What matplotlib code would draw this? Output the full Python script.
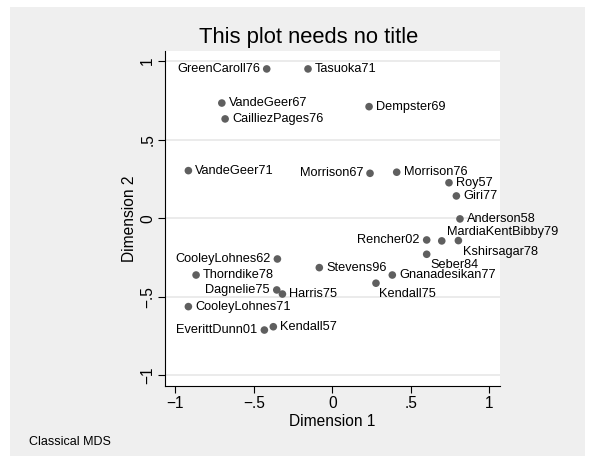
import matplotlib
matplotlib.use("Agg")
import matplotlib.pyplot as plt
from matplotlib.patches import Rectangle

plt.rcParams['font.family'] = ['Liberation Sans', 'DejaVu Sans']

names = ["GreenCaroll76", "Tasuoka71", "VandeGeer67", "CailliezPages76", "Dempster69",
         "VandeGeer71", "Morrison67", "Morrison76", "Roy57", "Giri77", "Anderson58",
         "Rencher02", "MardiaKentBibby79", "Kshirsagar78", "Seber84", "CooleyLohnes62",
         "Stevens96", "Gnanadesikan77", "Kendall75", "Thorndike78", "Dagnelie75",
         "Harris75", "CooleyLohnes71", "Kendall57", "EverittDunn01"]
dim1 = [-0.418, -0.155, -0.704, -0.683, 0.234,
        -0.917, 0.240, 0.410, 0.743, 0.790, 0.813,
        0.601, 0.697, 0.803, 0.601, -0.350,
        -0.083, 0.382, 0.278, -0.868, -0.354,
        -0.318, -0.917, -0.376, -0.433]
dim2 = [0.950, 0.950, 0.733, 0.632, 0.710,
        0.303, 0.286, 0.293, 0.226, 0.142, -0.004,
        -0.138, -0.144, -0.142, -0.229, -0.259,
        -0.314, -0.361, -0.413, -0.361, -0.456,
        -0.482, -0.562, -0.690, -0.711]
# marker label clock positions
label_pos = [9, 3, 3, 3, 3,
             3, 9, 3, 3, 3, 3,
             9, 2, 4, 5, 9,
             3, 3, 5, 3, 9,
             3, 3, 3, 9]
ticks = [-1, -0.5, 0, 0.5, 1]
tick_labels = ["\u22121", "\u2212.5", "0", ".5", "1"]

W, H = 595, 463
fig = plt.figure(figsize=(W / 100, H / 100), dpi=100, facecolor="white")
bg = Rectangle((10 / W, 7 / H), 575 / W, 449 / H, transform=fig.transFigure,
               facecolor="#efefef", edgecolor="none", zorder=-10)
fig.patches.append(bg)

ax = fig.add_axes([165 / W, 1 - 386 / H, 335 / W, 335 / H])
ax.set_zorder(1)
ax.set_facecolor("white")
ax.set_xlim(-1.066, 1.068)
ax.set_ylim(-1.067, 1.064)

for t in ticks:
    ax.axhline(t, color="#e6e6e6", lw=1.1, zorder=1)

ax.scatter(dim1, dim2, s=30, color="#5f5f5f", edgecolors="none", zorder=3)

offsets = {3: (5.0, 0, "left"), 9: (-5.0, 0, "right"), 2: (3.6, 6.5, "left"),
           4: (3.2, -7.9, "left"), 5: (2.4, -7.9, "left")}
for n, x, y, p in zip(names, dim1, dim2, label_pos):
    dx, dy, ha = offsets[p]
    ax.annotate(n, (x, y), xytext=(dx, dy), textcoords="offset points",
                ha=ha, va="center", fontsize=9.2, color="black", zorder=4)

ax.set_xticks(ticks)
ax.set_xticklabels(tick_labels)
ax.set_yticks(ticks)
ax.set_yticklabels(tick_labels, rotation=90, va="center")
ax.tick_params(axis="both", direction="out", length=5, width=0.8, color="black",
               labelsize=11.2, pad=2)
for s in ["top", "right"]:
    ax.spines[s].set_visible(False)
for s in ["left", "bottom"]:
    ax.spines[s].set_linewidth(0.8)
    ax.spines[s].set_color("black")

ax.set_xlabel("Dimension 1", fontsize=11.2, labelpad=2)
ax.set_ylabel("Dimension 2", fontsize=11.2, labelpad=2)

fig.text(309 / W, 1 - 43 / H, "This plot needs no title", ha="center", va="baseline",
         fontsize=15.8)
fig.text(29 / W, 1 - 442 / H, "Classical MDS", ha="left", va="center", fontsize=9)

fig.savefig("out.png", dpi=100, facecolor="white")
